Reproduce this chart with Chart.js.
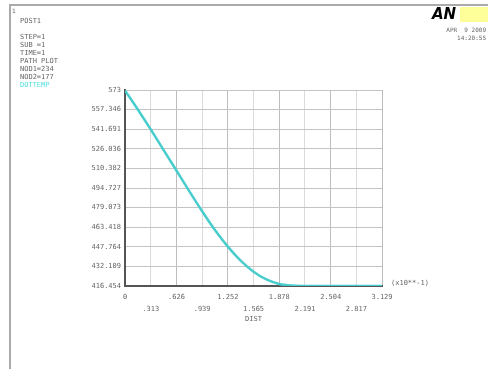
<!DOCTYPE html>
<html>
<head>
<meta charset="utf-8">
<script src="https://cdn.jsdelivr.net/npm/chart.js@4.4.1/dist/chart.umd.min.js"></script>
<style>
html,body{margin:0;padding:0;background:#fff;}
#c{display:block;}
</style>
</head>
<body>
<canvas id="c" width="488" height="369"></canvas>
<script>
// ---- data ----
const distValues = [0, 0.156, 0.313, 0.469, 0.626, 0.782, 0.939, 1.095, 1.252, 1.408, 1.565, 1.721, 1.878, 2.034, 2.191, 2.504, 2.817, 3.129];
const tempValues = [572.6, 557.4, 541.5, 525.2, 508.7, 492.2, 476.2, 461.2, 447.9, 436.7, 427.9, 421.7, 418.1, 416.8, 416.5, 416.454, 416.454, 416.454];
const xTickLabels = ['0', '.313', '.626', '.939', '1.252', '1.565', '1.878', '2.191', '2.504', '2.817', '3.129'];
const yTickLabels = ['416.454', '432.109', '447.764', '463.418', '479.073', '494.727', '510.382', '526.036', '541.691', '557.346', '573'];
const infoLines = ['STEP=1', 'SUB =1', 'TIME=1', 'PATH PLOT', 'NOD1=234', 'NOD2=177'];
const itemLabel = 'DOTTEMP';
const dateLines = ['APR  9 2009', '14:20:55'];

const xTickValues = xTickLabels.map(parseFloat);
const yTickValues = yTickLabels.map(parseFloat);
const points = distValues.map((d, i) => ({x: d, y: tempValues[i]}));

const FONT = 'DejaVu Sans Mono';
const TXT = '#666';

const decor = {
  id: 'decor',
  afterDraw(chart) {
    const ctx = chart.ctx;
    ctx.save();
    ctx.strokeStyle = '#aaaaaa';
    ctx.lineWidth = 2;
    ctx.beginPath();
    ctx.moveTo(488, 5); ctx.lineTo(10, 5); ctx.lineTo(10, 369);
    ctx.stroke();
    ctx.font = '6px ' + FONT;
    ctx.fillStyle = TXT;
    ctx.textBaseline = 'middle';
    ctx.textAlign = 'left';
    ctx.fillText('1', 12, 11);
    ctx.font = '7px ' + FONT;
    ctx.fillText('POST1', 20, 21);
    infoLines.forEach((t, i) => ctx.fillText(t, 20, 37 + i * 8));
    ctx.fillStyle = '#55dddd';
    ctx.fillText(itemLabel, 20, 37 + infoLines.length * 8);
    ctx.fillStyle = '#ffff99';
    ctx.fillRect(460, 7, 28, 15);
    ctx.fillStyle = '#000';
    ctx.font = 'bold italic 15px "DejaVu Sans"';
    ctx.textAlign = 'left';
    ctx.fillText('AN', 432, 15);
    ctx.fillStyle = TXT;
    ctx.font = '6px ' + FONT;
    ctx.textAlign = 'right';
    ctx.fillText(dateLines[0], 486, 30);
    ctx.fillText(dateLines[1], 486, 38);
    const xs = chart.scales.x;
    ctx.font = '7px ' + FONT;
    ctx.textAlign = 'left';
    ctx.fillText('(x10**-1)', xs.right + 9, 283);
    ctx.textAlign = 'center';
    ctx.fillText('DIST', (xs.left + xs.right) / 2, 319);
    ctx.restore();
  }
};

new Chart(document.getElementById('c'), {
  type: 'line',
  data: {
    datasets: [{
      data: points,
      borderColor: '#48cccc',
      borderWidth: 2.5,
      pointRadius: 0,
      cubicInterpolationMode: 'monotone',
      fill: false
    }]
  },
  options: {
    responsive: false,
    animation: false,
    devicePixelRatio: 1,
    layout: {padding: {left: 0, top: 90, right: 106, bottom: 0}},
    plugins: {legend: {display: false}, tooltip: {enabled: false}},
    scales: {
      x: {
        type: 'linear',
        min: 0,
        max: 3.129,
        afterBuildTicks: s => { s.ticks = xTickValues.map(v => ({value: v})); },
        afterFit: s => { s.height = 83; },
        grid: {
          color: ctx => (ctx.index % 2 === 0 ? '#bdbdbd' : '#dadada'),
          lineWidth: 1,
          drawTicks: false
        },
        border: {color: '#555', width: 2},
        ticks: {
          autoSkip: false,
          maxRotation: 0,
          padding: 5,
          color: TXT,
          font: {family: FONT, size: 7, lineHeight: 1.7},
          callback: (v, i) => (i % 2 === 0 ? [xTickLabels[i], ''] : ['', xTickLabels[i]])
        }
      },
      y: {
        type: 'linear',
        min: 416.454,
        max: 573,
        afterBuildTicks: s => { s.ticks = yTickValues.map(v => ({value: v})); },
        afterFit: s => { s.width = 125; },
        grid: {color: '#c4c4c4', lineWidth: 1, drawTicks: false},
        border: {color: '#555', width: 2},
        ticks: {
          autoSkip: false,
          padding: 4,
          color: TXT,
          font: {family: FONT, size: 7},
          callback: (v, i) => yTickLabels[i]
        }
      }
    }
  },
  plugins: [decor]
});
</script>
</body>
</html>
